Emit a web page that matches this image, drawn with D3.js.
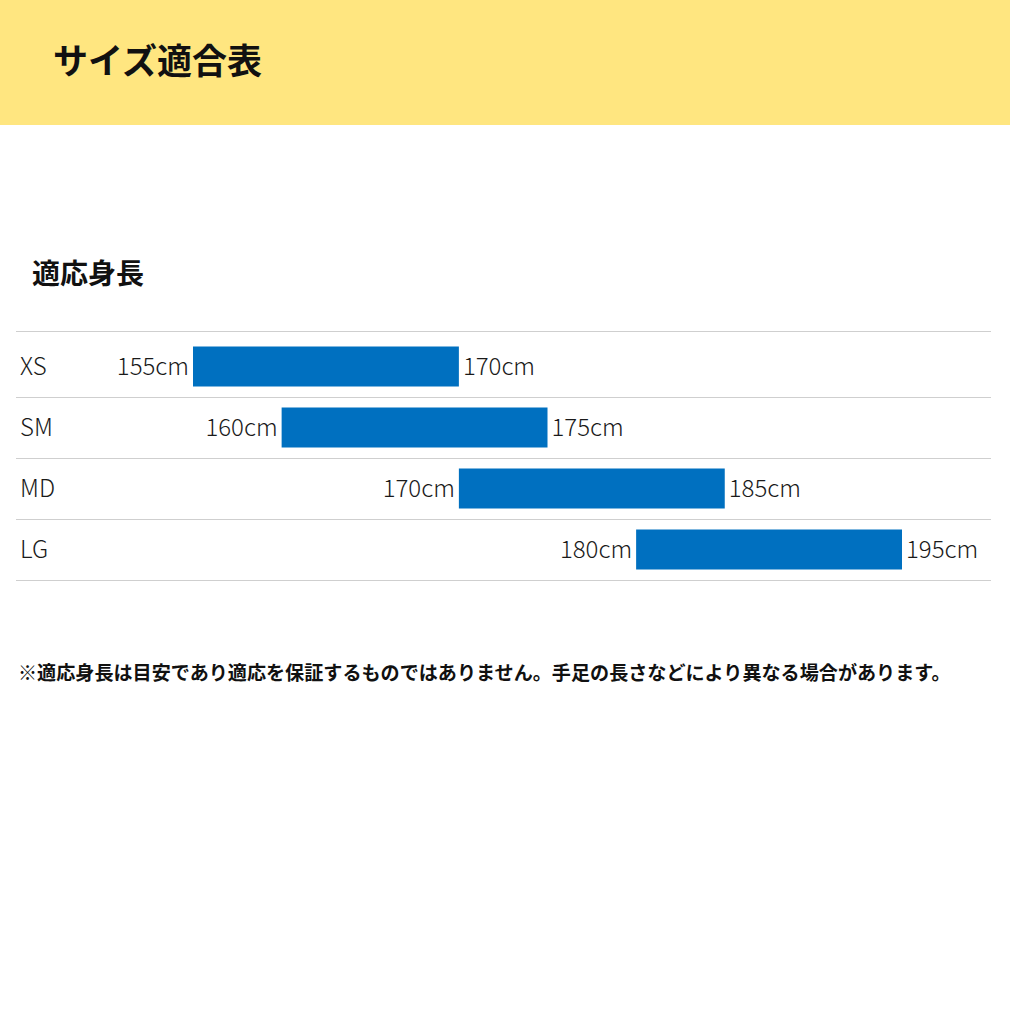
<!DOCTYPE html>
<html>
<head>
<meta charset="utf-8">
<script src="https://cdn.jsdelivr.net/npm/d3@7"></script>
<style>
  html, body { margin: 0; padding: 0; background: #fff; }
  svg { display: block; }
  text { font-family: "Noto Sans CJK JP", "Noto Sans", sans-serif; }
</style>
</head>
<body>
<div id="chart"></div>
<script>
const title = "サイズ適合表";
const subtitle = "適応身長";
const sizes = ["XS", "SM", "MD", "LG"];
const minHeights = [155, 160, 170, 180];
const maxHeights = [170, 175, 185, 195];
const unit = "cm";
const footnote = "※適応身長は目安であり適応を保証するものではありません。手足の長さなどにより異なる場合があります。";

const W = 1010, H = 1010;
const svg = d3.select("#chart").append("svg").attr("width", W).attr("height", H);

// header band
svg.append("rect").attr("x", 0).attr("y", 0).attr("width", W).attr("height", 125).attr("fill", "#FFE680");
svg.append("text").attr("x", 53).attr("y", 74).attr("font-size", 35).attr("font-weight", 700)
  .attr("fill", "#111").text(title);

svg.append("text").attr("x", 32).attr("y", 284).attr("font-size", 28).attr("font-weight", 700)
  .attr("fill", "#111").text(subtitle);

const data = sizes.map((s, i) => ({ size: s, lo: minHeights[i], hi: maxHeights[i] }));

const x = d3.scaleLinear().domain([155, 195]).range([193, 902]);
const y = d3.scaleBand().domain(sizes).range([336, 580]).paddingInner(0).paddingOuter(0);
const barH = 40;
const fs = 24;

// separators
const lineYs = [331].concat(sizes.map(s => y(s) + y.bandwidth()));
svg.selectAll("line.sep").data(lineYs).enter().append("line")
  .attr("class", "sep")
  .attr("x1", 16).attr("x2", 991)
  .attr("y1", d => d + 0.5).attr("y2", d => d + 0.5)
  .attr("stroke", "#cfcfcf").attr("stroke-width", 1);

const rows = svg.selectAll("g.row").data(data).enter().append("g").attr("class", "row");

rows.append("text")
  .attr("x", 20).attr("y", d => y(d.size) + y.bandwidth() / 2)
  .attr("dy", "0.35em").attr("font-size", fs).attr("font-weight", 300).attr("fill", "#1a1a1a")
  .text(d => d.size);

rows.append("rect")
  .attr("x", d => x(d.lo))
  .attr("y", d => y(d.size) + (y.bandwidth() - barH) / 2)
  .attr("width", d => x(d.hi) - x(d.lo))
  .attr("height", barH)
  .attr("fill", "#0070C0");

rows.append("text")
  .attr("x", d => x(d.lo) - 4).attr("y", d => y(d.size) + y.bandwidth() / 2)
  .attr("dy", "0.35em").attr("text-anchor", "end").attr("font-size", fs).attr("font-weight", 300).attr("fill", "#1a1a1a")
  .text(d => d.lo + unit);

rows.append("text")
  .attr("x", d => x(d.hi) + 4).attr("y", d => y(d.size) + y.bandwidth() / 2)
  .attr("dy", "0.35em").attr("text-anchor", "start").attr("font-size", fs).attr("font-weight", 300).attr("fill", "#1a1a1a")
  .text(d => d.hi + unit);

svg.append("text").attr("x", 18).attr("y", 680).attr("font-size", 19.1).attr("font-weight", 700)
  .attr("fill", "#111").text(footnote);
</script>
</body>
</html>
